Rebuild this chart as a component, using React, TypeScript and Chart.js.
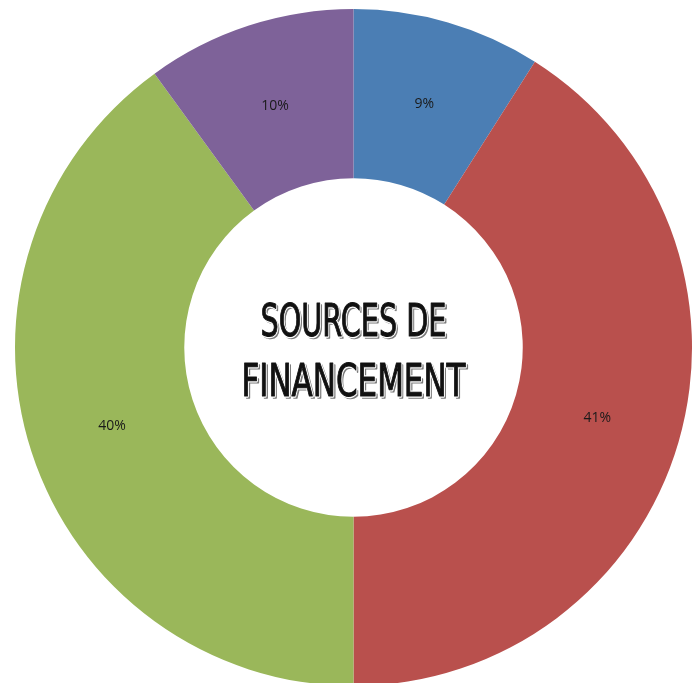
import React, { useEffect, useRef } from "react";
import { Chart, registerables } from "chart.js";

Chart.register(...registerables);

const categories = ["Source 1", "Source 2", "Source 3", "Source 4"];
const values = [9, 41, 40, 10];
const labelsText = ["9%", "41%", "40%", "10%"];
const colors = ["#4B7EB4", "#B9504D", "#9AB75A", "#7E6299"];
const centerLines = ["SOURCES DE", "FINANCEMENT"];

const labelPlugin = {
  id: "sliceLabels",
  afterDatasetsDraw(chart: any) {
    const ctx = chart.ctx;
    const meta = chart.getDatasetMeta(0);
    ctx.save();
    ctx.font = "14px 'Open Sans', 'Noto Sans', sans-serif";
    ctx.fillStyle = "#1a1a1a";
    ctx.textAlign = "center";
    ctx.textBaseline = "middle";
    meta.data.forEach((arc: any, i: number) => {
      const p = arc.tooltipPosition();
      ctx.fillText(labelsText[i], p.x, p.y);
    });
    ctx.restore();
  },
};

const centerPlugin = {
  id: "centerText",
  afterDraw(chart: any) {
    const ctx = chart.ctx;
    const meta = chart.getDatasetMeta(0);
    const arc = meta.data[0];
    if (!arc) return;
    const cx = arc.x;
    const cy = arc.y;
    const targetWidths = [186, 224];
    const baselines = [cy - 12, cy + 48];
    ctx.save();
    ctx.font = "45px 'DejaVu Sans Condensed', 'Liberation Sans Narrow', sans-serif";
    ctx.textAlign = "center";
    ctx.textBaseline = "alphabetic";
    ctx.lineJoin = "round";
    centerLines.forEach((line, i) => {
      const w = ctx.measureText(line).width;
      const sx = targetWidths[i] / w;
      ctx.save();
      ctx.translate(cx, baselines[i]);
      ctx.scale(sx, 1);
      // shadow
      ctx.fillStyle = "#7a7a7a";
      ctx.strokeStyle = "#7a7a7a";
      ctx.lineWidth = 1.5;
      ctx.fillText(line, 2.5, 2.5);
      ctx.strokeText(line, 2.5, 2.5);
      // white gap
      ctx.strokeStyle = "#ffffff";
      ctx.lineWidth = 3.5;
      ctx.strokeText(line, 0, 0);
      // main
      ctx.fillStyle = "#111111";
      ctx.strokeStyle = "#111111";
      ctx.lineWidth = 1;
      ctx.fillText(line, 0, 0);
      ctx.strokeText(line, 0, 0);
      ctx.restore();
    });
    ctx.restore();
  },
};

export default function App() {
  const ref = useRef<HTMLCanvasElement | null>(null);
  useEffect(() => {
    if (!ref.current) return;
    const chart = new Chart(ref.current, {
      type: "doughnut",
      data: {
        labels: categories,
        datasets: [
          {
            data: values,
            backgroundColor: colors,
            borderWidth: 0,
          },
        ],
      },
      options: {
        responsive: false,
        animation: false,
        cutout: "50%",
        layout: { padding: 0 },
        plugins: {
          legend: { display: false },
          tooltip: { enabled: false },
        },
      },
      plugins: [labelPlugin, centerPlugin],
    });
    return () => chart.destroy();
  }, []);
  return (
    <div style={{ position: "fixed", left: 0, top: 0, width: 699, height: 683, background: "#fff", overflow: "hidden" }}>
      <canvas
        ref={ref}
        width={677}
        height={677}
        style={{ position: "absolute", left: 15, top: 9, width: 677, height: 677 }}
      />
    </div>
  );
}
